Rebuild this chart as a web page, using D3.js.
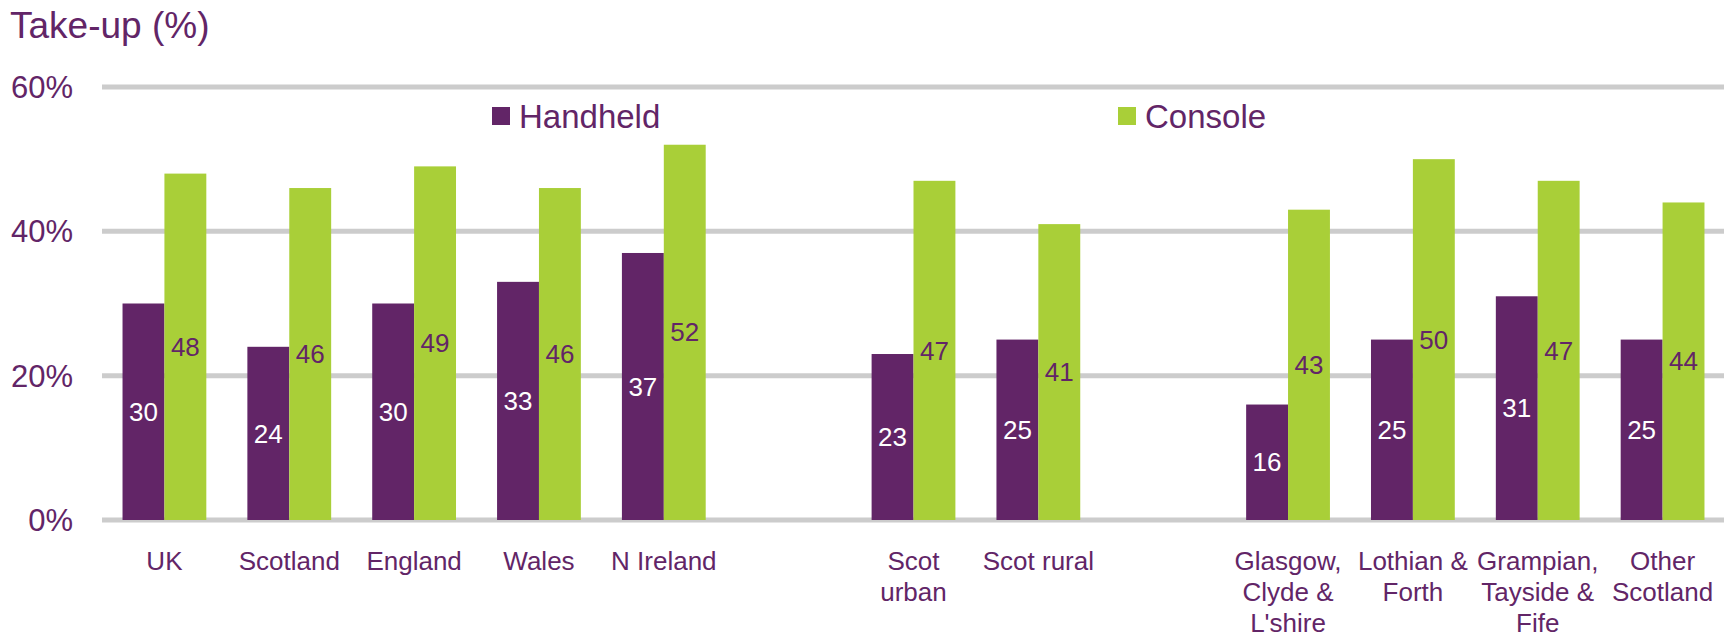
<!DOCTYPE html>
<html>
<head>
<meta charset="utf-8">
<script src="https://cdn.jsdelivr.net/npm/d3@7"></script>
<style>
    body { margin: 0; background: #fff; }
    svg { display: block; font-family: "Liberation Sans", Arial, sans-serif; }
</style>
</head>
<body>
<div id="chart"></div>
<script>
// Data
const groups = [
    ["UK", "Scotland", "England", "Wales", "N Ireland"],
    ["Scot urban", "Scot rural"],
    ["Glasgow, Clyde & L'shire", "Lothian & Forth", "Grampian, Tayside & Fife", "Other Scotland"]
];
const labelLines = {
    "Scot urban": ["Scot", "urban"],
    "Glasgow, Clyde & L'shire": ["Glasgow,", "Clyde &", "L'shire"],
    "Lothian & Forth": ["Lothian &", "Forth"],
    "Grampian, Tayside & Fife": ["Grampian,", "Tayside &", "Fife"],
    "Other Scotland": ["Other", "Scotland"]
};
const series = ["Handheld", "Console"];
const handheld = [30, 24, 30, 33, 37, 23, 25, 16, 25, 31, 25];
const consoleVals = [48, 46, 49, 46, 52, 47, 41, 43, 50, 47, 44];
const yTicks = [0, 20, 40, 60];

// Configuration
const colors = {
    handheld: "#622567",
    console: "#a9cf38",
    text: "#622567",
    grid: "#cccccc"
};

const width = 1732;
const height = 635;

// Build slot list with empty gaps between groups
const slots = [];
groups.forEach((g, gi) => {
    if (gi > 0) slots.push("gap" + gi);
    g.forEach(c => slots.push(c));
});
const categories = groups.flat();
const data = categories.map((c, i) => ({ key: c, Handheld: handheld[i], Console: consoleVals[i] }));

const svg = d3.select("#chart").append("svg")
    .attr("width", width)
    .attr("height", height);

const x = d3.scaleBand()
    .domain(slots)
    .range([102, 1725])
    .padding(0);

const xInner = d3.scaleBand()
    .domain(series)
    .range([0, x.bandwidth()])
    .paddingInner(0)
    .paddingOuter(0.49);

const y = d3.scaleLinear()
    .domain([0, 60])
    .range([520, 87]);

// Gridlines
svg.append("g")
    .selectAll("line")
    .data(yTicks)
    .join("line")
    .attr("x1", 102)
    .attr("x2", 1724)
    .attr("y1", d => y(d))
    .attr("y2", d => y(d))
    .attr("stroke", colors.grid)
    .attr("stroke-width", 5);

// Y tick labels
svg.append("g")
    .selectAll("text")
    .data(yTicks)
    .join("text")
    .attr("x", 73)
    .attr("y", d => y(d))
    .attr("dy", "0.35em")
    .attr("text-anchor", "end")
    .style("font-size", "31px")
    .style("fill", colors.text)
    .text(d => d + "%");

// Title
svg.append("text")
    .attr("x", 10)
    .attr("y", 38)
    .style("font-size", "37px")
    .style("fill", colors.text)
    .text("Take-up (%)");

// Bars
const groupSel = svg.append("g")
    .selectAll("g")
    .data(data)
    .join("g")
    .attr("transform", d => `translate(${x(d.key)},0)`);

groupSel.selectAll("rect")
    .data(d => series.map(s => ({ s, v: d[s] })))
    .join("rect")
    .attr("x", d => xInner(d.s))
    .attr("y", d => y(d.v))
    .attr("width", xInner.bandwidth())
    .attr("height", d => y(0) - y(d.v))
    .attr("fill", d => d.s === "Handheld" ? colors.handheld : colors.console);

// Value labels, centred in each bar
groupSel.selectAll("text")
    .data(d => series.map(s => ({ s, v: d[s] })))
    .join("text")
    .attr("x", d => xInner(d.s) + xInner.bandwidth() / 2)
    .attr("y", d => (y(d.v) + y(0)) / 2)
    .attr("dy", "0.35em")
    .attr("text-anchor", "middle")
    .style("font-size", "26px")
    .style("fill", d => d.s === "Handheld" ? "#ffffff" : colors.text)
    .text(d => d.v);

// Category labels
const catLabels = svg.append("g")
    .selectAll("text")
    .data(categories)
    .join("text")
    .attr("text-anchor", "middle")
    .attr("transform", d => `translate(${x(d) + x.bandwidth() / 2},570)`)
    .style("font-size", "26px")
    .style("fill", colors.text);

catLabels.selectAll("tspan")
    .data(d => labelLines[d] || [d])
    .join("tspan")
    .attr("x", 0)
    .attr("y", (d, i) => i * 31)
    .text(d => d);

// Legend
const legendX = { Handheld: 492, Console: 1118 };
const legend = svg.append("g")
    .selectAll("g")
    .data(series)
    .join("g")
    .attr("transform", d => `translate(${legendX[d]},107)`);

legend.append("rect")
    .attr("width", 18)
    .attr("height", 18)
    .attr("fill", d => d === "Handheld" ? colors.handheld : colors.console);

legend.append("text")
    .attr("x", 27)
    .attr("y", 21)
    .style("font-size", "33px")
    .style("fill", colors.text)
    .text(d => d);
</script>
</body>
</html>
